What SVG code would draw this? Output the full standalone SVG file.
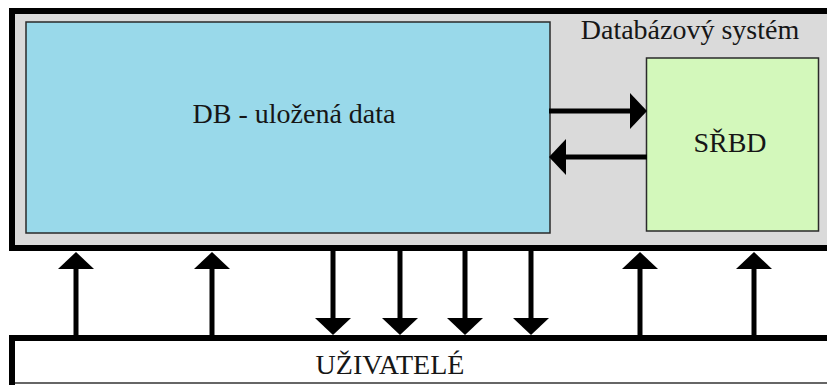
<svg xmlns="http://www.w3.org/2000/svg" width="827" height="385" viewBox="0 0 827 385">
  <style>
    .lbl { font-family: "Liberation Serif", "DejaVu Serif", serif; font-size: 28px; fill: #161616; text-anchor: middle; }
    .box { stroke: #2a2a2a; stroke-width: 1.5; }
    .conn line { stroke: #000; stroke-width: 5; marker-end: url(#head); }
  </style>
  <defs>
    <marker id="head" markerUnits="userSpaceOnUse" markerWidth="17" markerHeight="36" viewBox="0 0 17 36" refX="0" refY="18" orient="auto">
      <path d="M0,0 L17,18 L0,36 z" fill="#000"/>
    </marker>
  </defs>

  <rect width="827" height="385" fill="#fff"/>

  <!-- database system container -->
  <g id="system">
    <rect x="12" y="11" width="830" height="237" fill="#dadada" stroke="#000" stroke-width="6"/>
    <text class="lbl" x="690" y="39">Databázový systém</text>
  </g>

  <!-- stored data -->
  <g id="db">
    <rect class="box" x="26" y="22" width="524" height="211" fill="#99d9ea"/>
    <text class="lbl" x="294" y="123">DB - uložená data</text>
  </g>

  <!-- DBMS -->
  <g id="srbd">
    <rect class="box" x="646.5" y="58" width="172" height="173" fill="#d3f8bb"/>
    <text class="lbl" x="730" y="152">SŘBD</text>
  </g>

  <!-- users -->
  <g id="users">
    <rect x="12" y="338" width="830" height="50" fill="#fff"/>
    <path d="M12,385 V338 H842" fill="none" stroke="#000" stroke-width="6"/>
    <path d="M15,383 H827" fill="none" stroke="#333" stroke-width="1.5"/>
    <text class="lbl" x="390" y="374">UŽIVATELÉ</text>
  </g>

  <!-- connectors -->
  <g id="connectors" class="conn">
    <line x1="549" y1="111" x2="630" y2="111"/>
    <line x1="647" y1="157" x2="566" y2="157"/>
    <line x1="76" y1="338" x2="76" y2="269"/>
    <line x1="212" y1="338" x2="212" y2="269"/>
    <line x1="640" y1="338" x2="640" y2="269"/>
    <line x1="754" y1="338" x2="754" y2="269"/>
    <line x1="333" y1="248" x2="333" y2="318"/>
    <line x1="400" y1="248" x2="400" y2="318"/>
    <line x1="465" y1="248" x2="465" y2="318"/>
    <line x1="531" y1="248" x2="531" y2="318"/>
  </g>
</svg>
